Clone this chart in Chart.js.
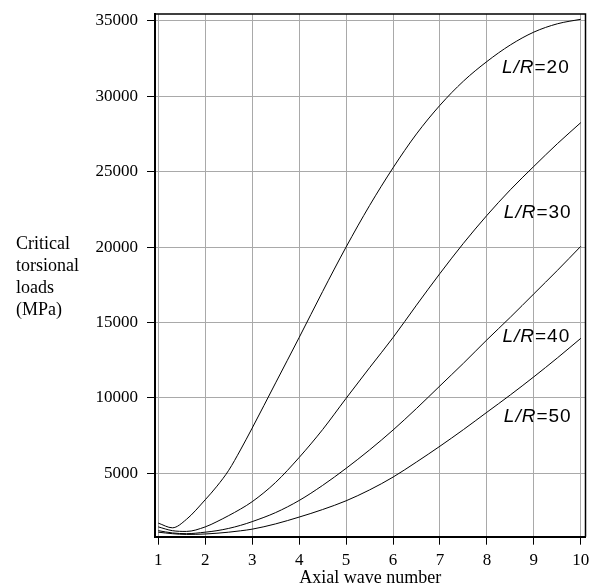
<!DOCTYPE html>
<html lang="en">
<head>
<meta charset="UTF-8">
<title>Critical torsional loads</title>
<script src="https://cdn.jsdelivr.net/npm/chart.js"></script>
<style>
    html, body { margin: 0; padding: 0; background: #fff; }
    #wrap { width: 593px; height: 585px; }
</style>
</head>
<body>
<div id="wrap"><canvas id="torsionChart" width="593" height="585"></canvas></div>

<script>
    // values
    const waveNumbers = [1, 1.3, 1.6, 2, 2.25, 2.5, 2.75, 3, 3.5, 4, 4.5, 5, 5.5, 6, 6.5, 7, 7.5, 8, 8.5, 9, 9.5, 10];
    const loadsLR20 = [1700, 1390, 1950, 3250, 4150, 5200, 6550, 8000, 11000, 14000, 17050, 20000, 22750, 25250, 27500, 29400, 31000, 32300, 33400, 34250, 34800, 35100];
    const loadsLR30 = [1450, 1200, 1150, 1450, 1800, 2200, 2630, 3120, 4400, 6050, 7900, 9970, 12000, 14000, 16150, 18250, 20250, 22100, 23800, 25350, 26850, 28250];
    const loadsLR40 = [1200, 1050, 1000, 1100, 1200, 1350, 1550, 1800, 2400, 3200, 4200, 5330, 6550, 7870, 9300, 10800, 12300, 13850, 15350, 16900, 18450, 20050];
    const loadsLR50 = [1100, 1000, 950, 980, 1030, 1100, 1190, 1300, 1650, 2100, 2600, 3180, 3900, 4750, 5750, 6800, 7900, 9050, 10200, 11400, 12650, 13950];
    const ratioLabels = ['20', '30', '40', '50'];

    const xTickValues = [1, 2, 3, 4, 5, 6, 7, 8, 9, 10];
    const yTickValues = [5000, 10000, 15000, 20000, 25000, 30000, 35000];
    const yTitleLines = ['Critical', 'torsional', 'loads', '(MPa)'];
    const xTitle = 'Axial wave number';

    const allSeries = [loadsLR20, loadsLR30, loadsLR40, loadsLR50];

    Chart.defaults.font.family = '"Liberation Serif", "DejaVu Serif", serif';
    Chart.defaults.color = '#000';

    // curve labels placed in data units (left edge, baseline)
    const labelAnchors = [
        { x: 8.32, y: 31540 },
        { x: 8.36, y: 21930 },
        { x: 8.33, y: 13727 },
        { x: 8.36, y: 8423 }
    ];

    const decorPlugin = {
        id: 'decor',
        afterDraw(chart) {
            const { ctx, chartArea, scales } = chart;
            ctx.save();

            // frame on top and right
            ctx.strokeStyle = '#000';
            ctx.lineWidth = 1.5;
            ctx.beginPath();
            ctx.moveTo(chartArea.left, chartArea.top);
            ctx.lineTo(chartArea.right, chartArea.top);
            ctx.lineTo(chartArea.right, chartArea.bottom);
            ctx.stroke();

            // y title, several lines
            ctx.fillStyle = '#000';
            ctx.textAlign = 'left';
            ctx.textBaseline = 'alphabetic';
            ctx.font = '18px "Liberation Serif", serif';
            yTitleLines.forEach((line, i) => {
                ctx.fillText(line, 16, 249 + i * 22);
            });

            // L/R labels
            const sans = '"Liberation Sans", Arial, sans-serif';
            ctx.letterSpacing = '1px';
            ratioLabels.forEach((val, i) => {
                let px = scales.x.getPixelForValue(labelAnchors[i].x);
                const py = scales.y.getPixelForValue(labelAnchors[i].y);
                ctx.font = 'italic 19px ' + sans;
                ctx.fillText('L/R', px, py);
                px += ctx.measureText('L/R').width;
                ctx.font = '19px ' + sans;
                ctx.fillText('=' + val, px, py);
            });
            ctx.restore();
        }
    };

    const ctx = document.getElementById('torsionChart').getContext('2d');
    const torsionChart = new Chart(ctx, {
        type: 'line',
        data: {
            datasets: allSeries.map((series, i) => ({
                label: 'L/R=' + ratioLabels[i],
                data: waveNumbers.map((w, k) => ({ x: w, y: series[k] })),
                borderColor: '#000',
                borderWidth: 1,
                pointRadius: 0,
                fill: false,
                cubicInterpolationMode: 'monotone'
            }))
        },
        options: {
            responsive: false,
            animation: false,
            layout: {
                padding: { left: 0, right: 7.5, top: 14, bottom: 0 }
            },
            plugins: {
                legend: { display: false },
                tooltip: { enabled: false }
            },
            scales: {
                x: {
                    type: 'linear',
                    min: 0.93,
                    max: 10.1,
                    afterBuildTicks: scale => {
                        scale.ticks = xTickValues.map(v => ({ value: v }));
                    },
                    afterFit: scale => {
                        scale.height = 48.3;
                        scale.paddingLeft = 0;
                        scale.paddingRight = 0;
                    },
                    ticks: {
                        autoSkip: false,
                        maxRotation: 0,
                        padding: 6,
                        font: { size: 17 },
                        color: '#000'
                    },
                    grid: {
                        color: '#a9a9a9',
                        lineWidth: 1,
                        tickColor: '#000',
                        tickLength: 8
                    },
                    border: { color: '#000', width: 2 },
                    title: {
                        display: true,
                        text: xTitle,
                        font: { size: 18, lineHeight: 0.8 },
                        padding: { top: 0, bottom: 0 },
                        color: '#000'
                    }
                },
                y: {
                    type: 'linear',
                    min: 800,
                    max: 35450,
                    afterBuildTicks: scale => {
                        scale.ticks = yTickValues.map(v => ({ value: v }));
                    },
                    afterFit: scale => {
                        scale.width = 155;
                        scale.paddingTop = 0;
                        scale.paddingBottom = 0;
                    },
                    ticks: {
                        padding: 9,
                        font: { size: 17 },
                        color: '#000',
                        callback: v => String(v)
                    },
                    grid: {
                        color: '#a9a9a9',
                        lineWidth: 1,
                        tickColor: '#000',
                        tickLength: 8
                    },
                    border: { color: '#000', width: 2 }
                }
            }
        },
        plugins: [decorPlugin]
    });
</script>
</body>
</html>
